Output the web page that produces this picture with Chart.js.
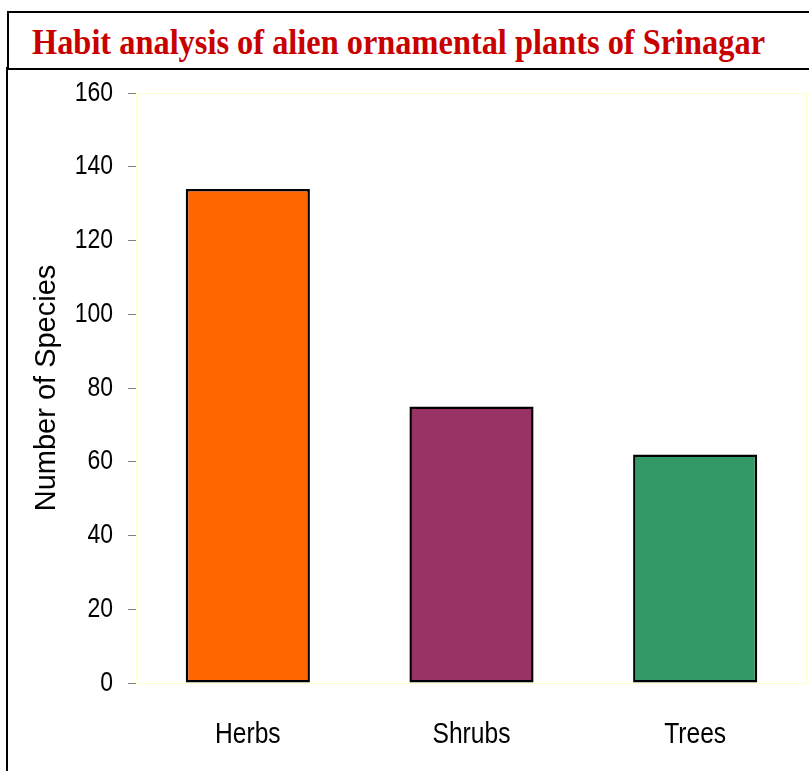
<!DOCTYPE html>
<html>
<head>
<meta charset="utf-8">
<script src="https://cdn.jsdelivr.net/npm/chart.js@4.4.1/dist/chart.umd.min.js"></script>
<style>
  html, body { margin: 0; padding: 0; background: #fff; }
  #wrap { position: relative; width: 809px; height: 771px; overflow: hidden; }
  #c { position: absolute; left: 0; top: 0; }
  #frameLeft { position: absolute; left: 6px; top: 67px; width: 2px; height: 710px; background: #000; }
  #titleBox { position: absolute; left: 7px; top: 11px; width: 820px; height: 55px; border: 2px solid #000; background: #fff; }
  #titleText { position: absolute; left: 32px; top: 25px; white-space: nowrap; font: bold 35px "Liberation Serif", "Times New Roman", serif; line-height: 35px; color: #c80000; transform-origin: 0 0; }
</style>
</head>
<body>
<div id="wrap">
  <canvas id="c" width="809" height="771"></canvas>
  <div id="frameLeft"></div>
  <div id="titleBox"></div>
  <div id="titleText">Habit analysis of alien ornamental plants of Srinagar</div>
</div>
<script>
const chartTitle = "Habit analysis of alien ornamental plants of Srinagar";
const categories = ["Herbs", "Shrubs", "Trees"];
const speciesCount = [134, 75, 62];
const yTicks = [0, 20, 40, 60, 80, 100, 120, 140, 160];
const yAxisTitle = "Number of Species";
const barColors = ["#ff6600", "#993366", "#339966"];

// fit title text width
const tt = document.getElementById('titleText');
tt.textContent = chartTitle;
const w = tt.getBoundingClientRect().width;
tt.style.transform = 'scaleX(' + (733 / w) + ')';

const sans = "'Liberation Sans', Arial, sans-serif";
const LABEL_SQUEEZE = 0.82;

// Draw tick labels horizontally condensed (like Arial Narrow) around their own anchors
const narrowLabels = {
  id: 'narrowLabels',
  beforeDraw(chart) {
    ['x', 'y'].forEach(id => {
      const scale = chart.scales[id];
      if (!scale || scale._narrowPatched) return;
      const orig = scale.drawLabels.bind(scale);
      scale.drawLabels = function(area) {
        const ctx = chart.ctx;
        const origFill = ctx.fillText;
        ctx.fillText = function(text, x, y, maxWidth) {
          ctx.save();
          ctx.translate(x, y);
          ctx.scale(LABEL_SQUEEZE, 1);
          origFill.call(ctx, text, 0, 0);
          ctx.restore();
        };
        try { orig(area); } finally { ctx.fillText = origFill; }
      };
      scale._narrowPatched = true;
    });
  }
};

const plotBorder = {
  id: 'plotBorder',
  beforeDatasetsDraw(chart) {
    const {ctx, chartArea: a} = chart;
    ctx.save();
    ctx.strokeStyle = '#ffffcc';
    ctx.lineWidth = 1;
    ctx.strokeRect(a.left + 0.5, a.top + 0.5, a.right - a.left - 1, a.bottom - a.top);
    ctx.restore();
  }
};

new Chart(document.getElementById('c'), {
  type: 'bar',
  data: {
    labels: categories,
    datasets: [{
      data: speciesCount,
      backgroundColor: barColors,
      borderColor: '#000000',
      borderWidth: 2.5,
      borderSkipped: false,
      categoryPercentage: 1.0,
      barPercentage: 0.555
    }]
  },
  options: {
    responsive: false,
    animation: false,
    devicePixelRatio: 1,
    layout: { padding: { left: 0, right: 2, top: 93, bottom: 0 } },
    plugins: { legend: { display: false }, tooltip: { enabled: false }, title: { display: false } },
    scales: {
      x: {
        grid: { display: false, drawTicks: false },
        border: { display: false },
        ticks: { color: '#000', font: { family: sans, size: 30 }, padding: 34 },
        afterFit(scale) { scale.height = 771 - 683; }
      },
      y: {
        min: 0, max: 160,
        afterBuildTicks(scale) { scale.ticks = yTicks.map(v => ({ value: v })); },
        grid: { drawOnChartArea: false, color: '#808080', tickLength: 8, lineWidth: 1 },
        border: { display: true, color: '#000', width: 1 },
        ticks: { color: '#000', font: { family: sans, size: 28 }, padding: 15 },
        title: { display: true, text: yAxisTitle, color: '#000', font: { family: sans, size: 29, lineHeight: 1.2 }, padding: { top: 30, bottom: 0 } },
        afterFit(scale) { scale.width = 136; }
      }
    }
  },
  plugins: [narrowLabels, plotBorder]
});
</script>
</body>
</html>
